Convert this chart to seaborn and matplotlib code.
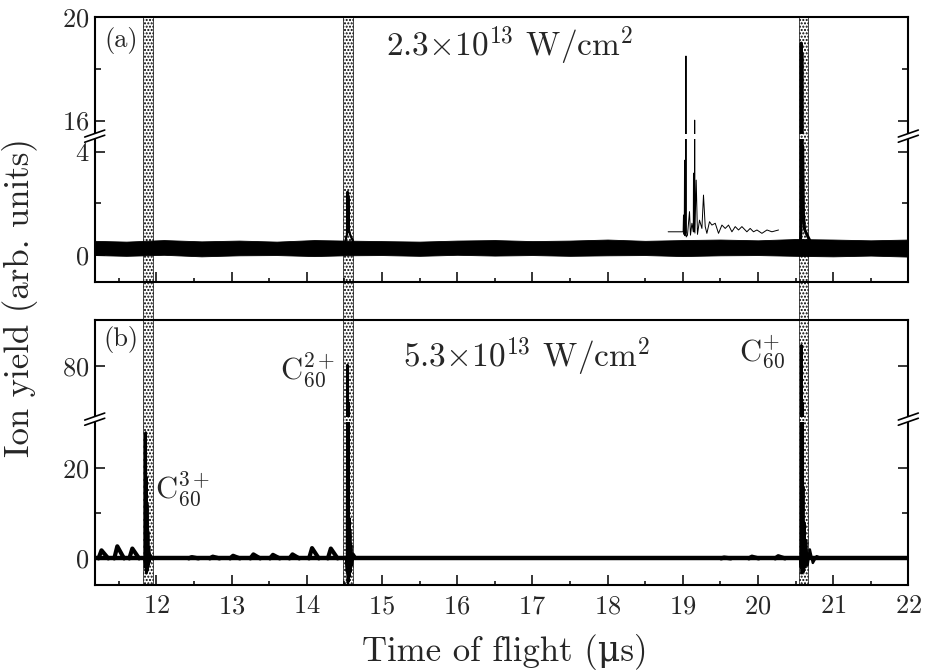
import numpy as np
import pandas as pd
import matplotlib
matplotlib.use('Agg')
import matplotlib.pyplot as plt
from matplotlib.ticker import FixedLocator
from matplotlib.patches import Rectangle, Polygon
import seaborn as sns

sns.set_style('ticks')
plt.rcParams['font.family'] = ['cmr10', 'DejaVu Serif']
plt.rcParams['mathtext.fontset'] = 'cm'
plt.rcParams['axes.formatter.use_mathtext'] = True
plt.rcParams['axes.linewidth'] = 1.5
plt.rcParams['hatch.linewidth'] = 1.0
plt.rcParams['axes.unicode_minus'] = False

XMIN, XMAX = 11.18, 22.0

# ---- panel (a): 2.3e13 W/cm2 ----
noise_x = [11.18, 11.6, 12.1, 12.6, 13.1, 13.6, 14.1, 14.5, 15.0, 15.5, 16.0, 16.5,
           17.0, 17.5, 18.0, 18.5, 19.0, 19.5, 20.0, 20.5, 21.0, 21.5, 22.0]
noise_hi = [0.55, 0.52, 0.58, 0.53, 0.56, 0.52, 0.58, 0.56, 0.54, 0.52, 0.56, 0.58,
            0.54, 0.56, 0.6, 0.55, 0.58, 0.6, 0.57, 0.62, 0.6, 0.57, 0.6]
noise_lo = [0.0, -0.03, 0.01, -0.05, -0.01, 0.0, -0.04, -0.01, 0.0, -0.03, 0.01, -0.02,
            0.0, -0.03, -0.01, 0.0, -0.04, -0.01, 0.0, -0.03, -0.05, -0.02, -0.06]

peak_a1_x = [14.51, 14.535, 14.542, 14.548, 14.553, 14.56, 14.575, 14.62]
peak_a1_y = [0.5, 0.8, 2.45, 0.9, 2.3, 1.0, 0.8, 0.5]

peak_a2_x = [20.565, 20.572, 20.576, 20.580, 20.584, 20.588, 20.595, 20.605, 20.62, 20.65, 20.70]
peak_a2_y = [0.5, 1.0, 19.0, 2.0, 18.6, 3.5, 4.2, 1.6, 1.0, 0.8, 0.5]

inset_x = [18.806, 19.005, 19.010, 19.016, 19.020, 19.024, 19.028, 19.040, 19.043, 19.046,
           19.063, 19.090, 19.103, 19.122, 19.140, 19.143, 19.146, 19.156, 19.159, 19.162,
           19.179, 19.196, 19.223, 19.255, 19.276, 19.299, 19.321, 19.356, 19.388, 19.432,
           19.476, 19.521, 19.565, 19.609, 19.654, 19.698, 19.742, 19.787, 19.853, 19.897,
           19.941, 19.987, 20.053, 20.120, 20.186, 20.274]
inset_y = [0.90, 0.90, 1.55, 0.80, 0.85, 3.67, 0.75, 0.85, 18.5, 0.70,
           0.77, 1.68, 0.77, 1.23, 0.9, 3.17, 0.9, 0.95, 16.02, 0.85,
           2.90, 0.80, 1.35, 1.03, 2.32, 1.10, 0.84, 1.29, 1.16, 1.23,
           0.84, 1.16, 1.03, 1.16, 0.90, 1.10, 0.97, 1.10, 0.90, 1.03,
           0.90, 0.97, 0.84, 0.97, 0.90, 0.97]

# ---- panel (b): 5.3e13 W/cm2 ----
base_b_x = [XMIN, XMAX]
base_b_y = [0.0, 0.0]
bump_x = [11.27, 11.48, 11.68, 12.47, 12.75, 13.02, 13.29, 13.55, 13.81, 14.07, 14.32, 19.55, 19.92, 20.27]
bump_h = [1.8, 2.7, 2.2, 0.3, 0.4, 0.6, 0.9, 0.8, 0.9, 2.3, 2.2, 0.2, 0.4, 0.5]

peak_b3_x = [11.84, 11.852, 11.858, 11.864, 11.868, 11.874, 11.878, 11.884, 11.89, 11.896, 11.902, 11.91, 11.92, 11.95]
peak_b3_y = [0.0, -2.0, 28.0, -3.3, 18.0, -3.0, 12.0, -2.5, 6.0, -1.5, 2.5, -0.8, 0.8, 0.0]

peak_b2_x = [14.525, 14.535, 14.541, 14.547, 14.553, 14.559, 14.565, 14.571, 14.577, 14.583, 14.59, 14.60, 14.62, 14.66]
peak_b2_y = [0.0, -3.0, 80.3, -5.5, 72.0, -5.0, 9.0, -4.0, 6.0, -3.0, 3.0, -1.5, 1.0, 0.0]

peak_b1_x = [20.56, 20.572, 20.578, 20.584, 20.590, 20.596, 20.602, 20.608, 20.616, 20.626, 20.64, 20.66, 20.69, 20.73, 20.78, 20.85]
peak_b1_y = [0.0, -2.0, 84.7, -3.3, 72.0, -3.0, 16.0, -3.0, 8.0, -2.0, 4.0, -1.5, 2.0, -1.0, 0.5, 0.0]

# shaded windows (us)
band_lo = [11.824, 14.486, 20.540]
band_hi = [11.949, 14.611, 20.660]

# broken y axes: (lower end, upper start)
brk_a = (4.60, 15.40)
brk_b = (30.96, 68.26)


def make_scale(lo, hi):
    shift = hi - lo
    def fwd(v):
        v = np.asarray(v, dtype=float)
        return np.where(v <= lo, v, np.where(v >= hi, v - shift, lo))
    def inv(u):
        u = np.asarray(u, dtype=float)
        return np.where(u <= lo, u, u + shift)
    return fwd, inv


def mark_break(ax, brk, ylim):
    fwd, _ = make_scale(*brk)
    f = float((fwd(brk[0]) - fwd(ylim[0])) / (fwd(ylim[1]) - fwd(ylim[0])))
    w, h = ax.bbox.width, ax.bbox.height
    dx, dy, s = 10 / w, 3.5 / h, 2.6 / h
    # white gap through the traces
    ax.add_patch(Rectangle((0, f - s), 1, 2 * s, transform=ax.transAxes,
                           facecolor='white', edgecolor='none', zorder=3))
    for x0 in (0, 1):
        ax.add_patch(Polygon([(x0 - dx, f - dy - s), (x0 + dx, f + dy - s),
                              (x0 + dx, f + dy + s), (x0 - dx, f - dy + s)],
                             closed=True, transform=ax.transAxes, facecolor='white',
                             edgecolor='none', clip_on=False, zorder=5))
        for sgn in (-1, 1):
            ax.plot([x0 - dx, x0 + dx], [f - dy + sgn * s, f + dy + sgn * s],
                    transform=ax.transAxes, color='k', lw=1.2, clip_on=False, zorder=6)


def style_axes(ax, brk, ylim, major, minor):
    fwd, inv = make_scale(*brk)
    ax.set_yscale('function', functions=(fwd, inv))
    ax.set_xlim(XMIN, XMAX)
    ax.set_ylim(*ylim)
    ax.xaxis.set_major_locator(FixedLocator(np.arange(12, 23)))
    ax.xaxis.set_minor_locator(FixedLocator(np.arange(11.5, 22, 1.0)))
    ax.yaxis.set_major_locator(FixedLocator(major))
    ax.yaxis.set_minor_locator(FixedLocator(minor))
    ax.tick_params(axis='both', which='both', direction='in', top=False, right=True,
                   width=1.3, labelsize=19)
    ax.tick_params(axis='x', which='major', length=7, pad=7)
    ax.tick_params(axis='x', which='minor', length=3)
    ax.tick_params(axis='y', which='major', length=7, pad=4)
    ax.tick_params(axis='y', which='minor', length=4.5)
    for sp in ax.spines.values():
        sp.set_visible(True)
        sp.set_linewidth(1.5)
        sp.set_color('k')


fig = plt.figure(figsize=(9.26, 6.71), dpi=100)
ax1 = fig.add_axes([0.1023, 0.5802, 0.8786, 0.3949])
ax2 = fig.add_axes([0.1023, 0.1282, 0.8786, 0.3949])

ylim_a = (-1.03, 20.02)
ylim_b = (-5.9, 90.3)
style_axes(ax1, brk_a, ylim_a, [0, 4, 16, 20], [2, 18])
style_axes(ax2, brk_b, ylim_b, [0, 20, 80], [10])
ax1.tick_params(labelbottom=False)

# ---- traces (a)
ax1.fill_between(noise_x, noise_lo, noise_hi, color='k', lw=0.6, zorder=2)
sns.lineplot(x=peak_a1_x, y=peak_a1_y, sort=False, estimator=None, color='k', lw=1.6, ax=ax1, zorder=2)
sns.lineplot(x=peak_a2_x, y=peak_a2_y, sort=False, estimator=None, color='k', lw=2.2, ax=ax1, zorder=2)
sns.lineplot(x=inset_x, y=inset_y, sort=False, estimator=None, color='k', lw=0.7, ax=ax1, zorder=2)

# ---- traces (b)
bumps = []
for i, (c, hgt) in enumerate(zip(bump_x, bump_h)):
    for dx, frac in ((-0.04, 0.0), (0.0, 1.0), (0.09, 0.0)):
        bumps.append({'seg': i, 'x': c + dx, 'y': hgt * frac})
bumps = pd.DataFrame(bumps)
sns.lineplot(x=base_b_x, y=base_b_y, sort=False, estimator=None, color='k', lw=3.2, ax=ax2, zorder=2)
sns.lineplot(data=bumps, x='x', y='y', units='seg', estimator=None, sort=False,
             color='k', lw=3.0, ax=ax2, zorder=2)
for px, py in ((peak_b3_x, peak_b3_y), (peak_b2_x, peak_b2_y), (peak_b1_x, peak_b1_y)):
    sns.lineplot(x=px, y=py, sort=False, estimator=None, color='k', lw=1.8, ax=ax2, zorder=2)

for ax in (ax1, ax2):
    if ax.get_legend() is not None:
        ax.get_legend().remove()
    ax.set_xlabel('')
    ax.set_ylabel('')

# shaded windows through both panels
gap = (ax1.get_position().y0 - ax2.get_position().y1) / ax1.get_position().height
for x0, x1 in zip(band_lo, band_hi):
    ax1.axvspan(x0, x1, ymin=-gap, ymax=1, facecolor='none', edgecolor='k', hatch='.....',
                lw=0.5, clip_on=False, zorder=4)
    ax2.axvspan(x0, x1, ymin=0, ymax=1, facecolor='none', edgecolor='k', hatch='.....',
                lw=0.5, zorder=4)

mark_break(ax1, brk_a, ylim_a)
mark_break(ax2, brk_b, ylim_b)

# ---- texts
ax1.text(0.032, 0.912, '(a)', transform=ax1.transAxes, ha='center', va='center', fontsize=19)
ax2.text(0.032, 0.925, '(b)', transform=ax2.transAxes, ha='center', va='center', fontsize=19)
ax1.text(16.7, 18.9, r'2.3$\times10^{13}$ W/$\mathrm{cm}^2$', ha='center', va='center', fontsize=24)
ax2.text(16.93, 82.1, r'5.3$\times10^{13}$ W/$\mathrm{cm}^2$', ha='center', va='center', fontsize=24)
ax2.text(14.016, 79.1, r'$\mathrm{C}_{60}^{2+}$', ha='center', va='center', fontsize=22)
ax2.text(12.353, 15.4, r'$\mathrm{C}_{60}^{3+}$', ha='center', va='center', fontsize=22)
ax2.text(20.056, 83.1, r'$\mathrm{C}_{60}^{+}$', ha='center', va='center', fontsize=22)

fig.text(0.545, 0.029, 'Time of flight (μs)', ha='center', va='center', fontsize=25,
         family=['cmr10', 'DejaVu Serif'])
fig.text(0.022, 0.557, 'Ion yield (arb. units)', ha='center', va='center', rotation=90,
         fontsize=25)

fig.savefig('out.png', dpi=100)
